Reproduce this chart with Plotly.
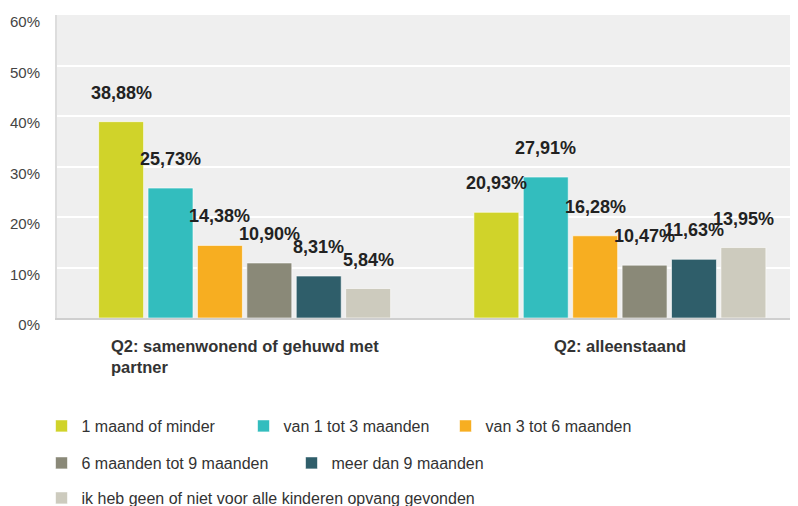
import plotly.graph_objects as go

categories = ["Q2: samenwonend of gehuwd met partner", "Q2: alleenstaand"]
category_labels = ["Q2: samenwonend of gehuwd met<br>partner", "Q2: alleenstaand"]
series_names = [
    "1 maand of minder",
    "van 1 tot 3 maanden",
    "van 3 tot 6 maanden",
    "6 maanden tot 9 maanden",
    "meer dan 9 maanden",
    "ik heb geen of niet voor alle kinderen opvang gevonden",
]
values = [
    [38.88, 20.93],
    [25.73, 27.91],
    [14.38, 16.28],
    [10.90, 10.47],
    [8.31, 11.63],
    [5.84, 13.95],
]
colors = ["#D0D32A", "#33BDBE", "#F7AE21", "#8A8978", "#2F5E6A", "#CDCBBE"]
legend_ids = ["legend", "legend", "legend", "legend2", "legend2", "legend3"]
y_ticks = [0, 10, 20, 30, 40, 50, 60]
y_tick_labels = ["0%", "10%", "20%", "30%", "40%", "50%", "60%"]

# layout parameters
W, H = 798, 506
M_L, M_R, M_T, M_B = 49, 0, 7, 196
X_RANGE = [-0.5, 1.496]
BARGAP, BARGROUPGAP = 0.21, 0.09

fig = go.Figure()
for name, vals, col, lg in zip(series_names, values, colors, legend_ids):
    fig.add_trace(go.Bar(
        x=categories, y=vals, name=name, legend=lg,
        marker=dict(color=col, line=dict(color="rgba(255,255,255,0.6)", width=1)),
        hoverinfo="skip",
    ))

# value labels above each bar (offset within the group derived from the axis scale)
px_per_cat = (W - M_L - M_R) / (X_RANGE[1] - X_RANGE[0])
n = len(series_names)
slot_px = px_per_cat * (1 - BARGAP) / n
for i, vals in enumerate(values):
    for cat, v in zip(categories, vals):
        fig.add_annotation(
            x=cat, y=v, xref="x", yref="y", showarrow=False,
            text=f"{v:.2f}".replace(".", ",") + "%",
            xshift=(i - (n - 1) / 2) * slot_px, yshift=29, yanchor="middle",
            font=dict(family="Liberation Sans, Arial", size=18, color="#222222", weight="bold"),
        )

for cat, lab in zip(categories, category_labels):
    fig.add_annotation(
        x=cat, y=0, xref="x", yref="y", yanchor="top", yshift=-17,
        text=lab, showarrow=False, align="left",
        font=dict(family="Liberation Sans, Arial", size=16.5, color="#333333", weight="bold"),
    )

legend_common = dict(
    orientation="h", xref="container", yref="container", x=0.042, xanchor="left",
    yanchor="middle", font=dict(family="Liberation Sans, Arial", size=16, color="#333333"),
    bgcolor="rgba(0,0,0,0)", itemclick=False, itemdoubleclick=False,
    entrywidthmode="pixels",
)

fig.update_layout(
    width=W, height=H,
    margin=dict(l=M_L, r=M_R, t=M_T, b=M_B, autoexpand=False),
    paper_bgcolor="white", plot_bgcolor="#EFEFEF",
    barmode="group", bargap=BARGAP, bargroupgap=BARGROUPGAP,
    showlegend=True,
    legend=dict(legend_common, y=(506 - 418) / 506, entrywidth=157),
    legend2=dict(legend_common, y=(506 - 455) / 506, entrywidth=205),
    legend3=dict(legend_common, y=(506 - 490) / 506),
    xaxis=dict(type="category", range=X_RANGE, showticklabels=False,
               showgrid=False, showline=True, linecolor="#CFCFCF", linewidth=2,
               zeroline=False, fixedrange=True, automargin=False),
    yaxis=dict(range=[0, 60], tickvals=y_ticks, ticktext=y_tick_labels, showgrid=True,
               gridcolor="white", gridwidth=2, showline=True, linecolor="#DDDDDD",
               linewidth=2, zeroline=False, ticklabelshift=7, ticklabelstandoff=12,
               tickfont=dict(family="Liberation Sans, Arial", size=15, color="#444444"),
               fixedrange=True, automargin=False),
    font=dict(family="Liberation Sans, Arial"),
)

fig.write_html("out.html")
